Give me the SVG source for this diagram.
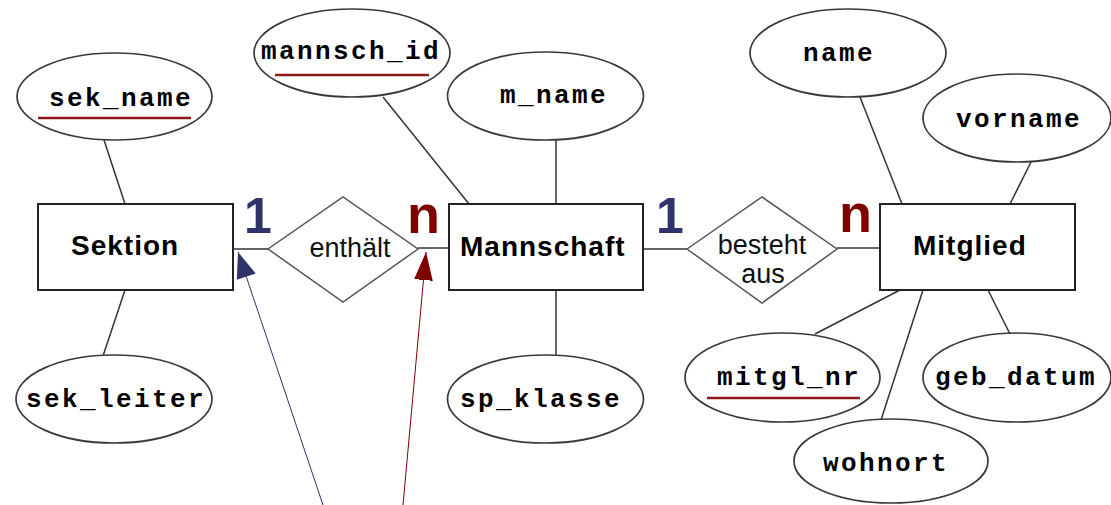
<svg xmlns="http://www.w3.org/2000/svg" width="1111" height="505" viewBox="0 0 1111 505">
<defs>
<style>
.ent{fill:#fff;stroke:#222;stroke-width:2}
.att{fill:#fff;stroke:#3a3a3a;stroke-width:1.7}
.rel{fill:#fff;stroke:#555;stroke-width:1.5}
.et{font-family:"Liberation Sans",Arial,sans-serif;font-weight:bold;font-size:28px;letter-spacing:1px;fill:#000}
.at{font-family:"Liberation Mono","Courier New",monospace;font-weight:bold;font-size:26px;letter-spacing:2.4px;fill:#000}
.rt{font-family:"Liberation Sans",Arial,sans-serif;font-size:27px;fill:#111;text-anchor:middle}
.key{stroke:#8b1a1a;stroke-width:2.5}
.ln{stroke:#333;stroke-width:1.5;fill:none}
.c1{font-family:"Liberation Sans",Arial,sans-serif;font-weight:bold;font-size:50px;fill:#33336b}
.cn{font-family:"Liberation Sans",Arial,sans-serif;font-weight:bold;font-size:54px;fill:#800000}
</style>
<marker id="ab" markerUnits="userSpaceOnUse" markerWidth="30" markerHeight="24" viewBox="-28 -12 30 24" refX="0" refY="0" orient="auto">
<path d="M0,0 L-26,-10 L-26,10 Z" fill="#33336b"/>
</marker>
<marker id="ar" markerUnits="userSpaceOnUse" markerWidth="30" markerHeight="24" viewBox="-28 -12 30 24" refX="0" refY="0" orient="auto">
<path d="M0,0 L-30,-10 L-30,10 Z" fill="#800000"/>
</marker>
</defs>
<rect width="1111" height="505" fill="#fff"/>
<g id="connectors">
<line class="ln" x1="104" y1="140" x2="125" y2="204"/>
<line class="ln" x1="125" y1="290" x2="103" y2="356"/>
<line class="ln" x1="233" y1="249" x2="268" y2="249"/>
<line class="ln" x1="418" y1="248" x2="450" y2="248"/>
<line class="ln" x1="383" y1="97" x2="469" y2="204"/>
<line class="ln" x1="556" y1="140" x2="556" y2="204"/>
<line class="ln" x1="556" y1="290" x2="556" y2="356"/>
<line class="ln" x1="643" y1="249" x2="687" y2="249"/>
<line class="ln" x1="837" y1="248" x2="880" y2="248"/>
<line class="ln" x1="860" y1="97" x2="902" y2="204"/>
<line class="ln" x1="1031" y1="162" x2="1010" y2="204"/>
<line class="ln" x1="900" y1="290" x2="815" y2="334"/>
<line class="ln" x1="923" y1="290" x2="881" y2="420"/>
<line class="ln" x1="988" y1="290" x2="1010" y2="334"/>
<line x1="323" y1="505" x2="238" y2="252" stroke="#33336b" stroke-width="1" marker-end="url(#ab)"/>
<line x1="403" y1="505" x2="426" y2="252" stroke="#800000" stroke-width="1" marker-end="url(#ar)"/>
</g>
<g id="Sektion">
<rect class="ent" x="38" y="204" width="195" height="86"/>
<text class="et" x="71" y="255">Sektion</text>
</g>
<g id="Mannschaft">
<rect class="ent" x="449" y="204" width="194" height="86"/>
<text class="et" x="460" y="256">Mannschaft</text>
</g>
<g id="Mitglied">
<rect class="ent" x="880" y="204" width="195" height="86"/>
<text class="et" x="913" y="255">Mitglied</text>
</g>
<g id="enthaelt">
<polygon class="rel" points="268,249 343,197 418,249 343,302"/>
<text class="rt" x="350" y="257">enthält</text>
</g>
<g id="besteht_aus">
<polygon class="rel" points="687,249 762,197 837,249 762,303"/>
<text class="rt" x="762" y="254">besteht</text>
<text class="rt" x="763" y="283">aus</text>
</g>
<g id="sek_name">
<ellipse class="att" cx="114.5" cy="96.5" rx="97.5" ry="43.5"/>
<text class="at" x="49" y="106">sek_name</text>
<line class="key" x1="38" y1="118" x2="191" y2="118"/>
</g>
<g id="sek_leiter">
<ellipse class="att" cx="114" cy="399" rx="98" ry="44"/>
<text class="at" x="26" y="407">sek_leiter</text>
</g>
<g id="mannsch_id">
<ellipse class="att" cx="352" cy="53" rx="98" ry="44"/>
<text class="at" x="261" y="59">mannsch_id</text>
<line class="key" x1="275" y1="75" x2="429" y2="75"/>
</g>
<g id="m_name">
<ellipse class="att" cx="545.5" cy="96" rx="98" ry="44"/>
<text class="at" x="500" y="103">m_name</text>
</g>
<g id="sp_klasse">
<ellipse class="att" cx="545.5" cy="399" rx="98" ry="44"/>
<text class="at" x="460" y="407">sp_klasse</text>
</g>
<g id="name">
<ellipse class="att" cx="848" cy="53" rx="98" ry="44"/>
<text class="at" x="803" y="61">name</text>
</g>
<g id="vorname">
<ellipse class="att" cx="1017" cy="118" rx="94" ry="44"/>
<text class="at" x="956" y="127">vorname</text>
</g>
<g id="mitgl_nr">
<ellipse class="att" cx="782.5" cy="377.5" rx="97.5" ry="44.5"/>
<text class="at" x="717" y="385">mitgl_nr</text>
<line class="key" x1="707" y1="398" x2="860" y2="398"/>
</g>
<g id="geb_datum">
<ellipse class="att" cx="1017" cy="377.5" rx="94" ry="44.5"/>
<text class="at" x="935" y="385">geb_datum</text>
</g>
<g id="wohnort">
<ellipse class="att" cx="891" cy="461" rx="97" ry="42"/>
<text class="at" x="823" y="471">wohnort</text>
</g>
<g id="cardinalities">
<text class="c1" x="244" y="233">1</text>
<text class="cn" x="407" y="233">n</text>
<text class="c1" x="656" y="233">1</text>
<text class="cn" x="839" y="232">n</text>
</g>
</svg>
